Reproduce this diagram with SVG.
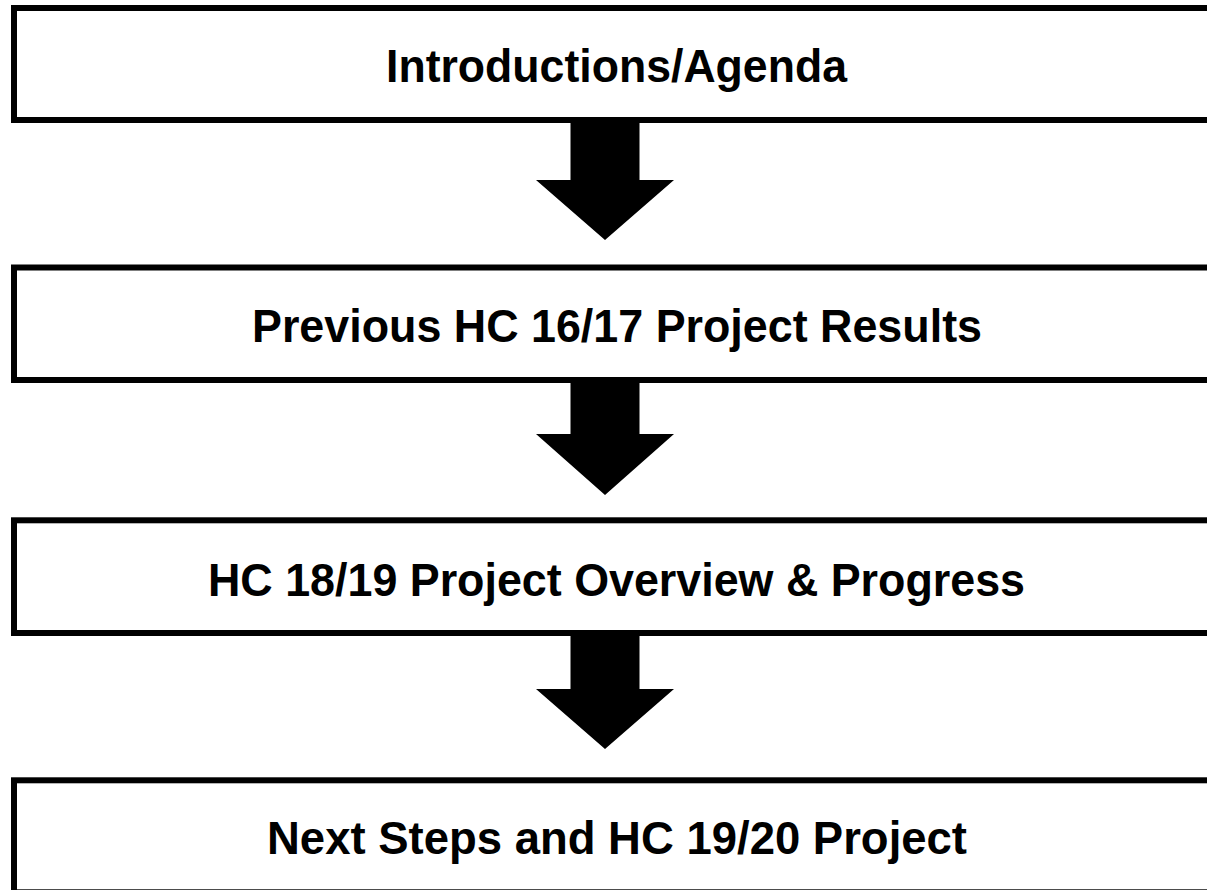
<svg xmlns="http://www.w3.org/2000/svg" width="1207" height="890" viewBox="0 0 1207 890">
  <style>
    .box { fill: #ffffff; stroke: #000000; stroke-width: 6; }
    .lbl { font-family: "Liberation Sans", Arial, sans-serif; font-weight: bold; font-size: 46px; fill: #000000; }
    .arrow { fill: #000000; stroke: none; }
  </style>
  <rect x="0" y="0" width="1207" height="890" fill="#ffffff"/>
  <g id="connectors">
    <polygon class="arrow" points="570.5,118 639.5,118 639.5,180 674,180 605,240 536,180 570.5,180"/>
    <polygon class="arrow" points="570.5,377 639.5,377 639.5,434 674,434 605,495 536,434 570.5,434"/>
    <polygon class="arrow" points="570.5,630 639.5,630 639.5,689 674,689 605,749 536,689 570.5,689"/>
  </g>
  <g id="node1">
    <rect class="box" x="14" y="8" width="1220" height="112"/>
    <text class="lbl" x="386" y="82" textLength="461" lengthAdjust="spacingAndGlyphs">Introductions/Agenda</text>
  </g>
  <g id="node2">
    <rect class="box" x="14" y="267.5" width="1220" height="112.5"/>
    <text class="lbl" x="252" y="342" textLength="730" lengthAdjust="spacingAndGlyphs">Previous HC 16/17 Project Results</text>
  </g>
  <g id="node3">
    <rect class="box" x="14" y="520.3" width="1220" height="112.7"/>
    <text class="lbl" x="208" y="596" textLength="817" lengthAdjust="spacingAndGlyphs">HC 18/19 Project Overview &amp; Progress</text>
  </g>
  <g id="node4">
    <rect class="box" x="14" y="780.3" width="1220" height="112"/>
    <text class="lbl" x="267" y="854" textLength="700" lengthAdjust="spacingAndGlyphs">Next Steps and HC 19/20 Project</text>
  </g>
</svg>
